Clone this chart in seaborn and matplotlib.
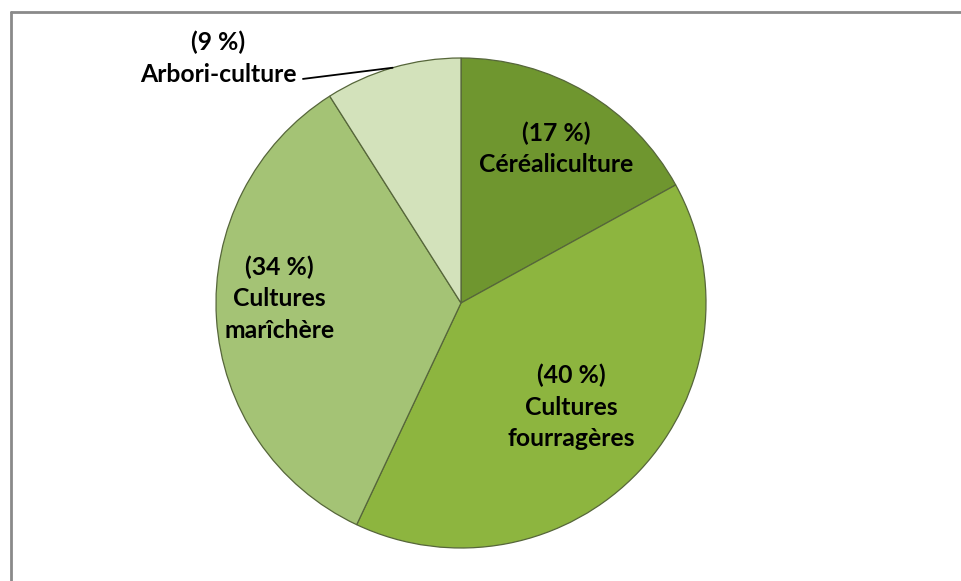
import numpy as np
import matplotlib
matplotlib.use("Agg")
import matplotlib.pyplot as plt
import seaborn as sns
from matplotlib.lines import Line2D

# Données (répartition des cultures)
categories = ["Céréaliculture", "Cultures\nfourragères", "Cultures\nmarîchère", "Arbori-culture"]
parts = [17, 40, 34, 9]
couleurs = ["#6f962f", "#8db53f", "#a4c375", "#d3e2bb"]
# placement des étiquettes internes : distance (fraction du rayon) et décalage angulaire (deg)
dist_labels = [0.74, 0.62, 0.74, None]
decal_angle = [-1, 0, -5, 0]

sns.set_theme(style="white")
plt.rcParams['font.family'] = ['Lato', 'DejaVu Sans']

W, H = 961, 581
fig = plt.figure(figsize=(W / 100, H / 100), dpi=100)
cx, cy, r = 461, 303, 245
ax = fig.add_axes([(cx - r) / W, (H - cy - r) / H, 2 * r / W, 2 * r / H])

wedges, _ = ax.pie(parts, colors=couleurs, startangle=90, counterclock=False,
                   wedgeprops=dict(edgecolor="#56663a", linewidth=0.9))
ax.set_xlim(-1, 1)
ax.set_ylim(-1, 1)
ax.set_aspect("equal")
ax.axis("off")

style_txt = dict(fontsize=17.8, fontweight="bold", color="black", linespacing=1.45)
for w, cat, p, d, da in zip(wedges, categories, parts, dist_labels, decal_angle):
    theta = np.deg2rad((w.theta1 + w.theta2) / 2 + da)
    txt = f"({p} %)\n{cat}"
    if d is not None:
        ax.text(d * np.cos(theta), d * np.sin(theta), txt, ha="center", va="center",
                **style_txt)
    else:
        x0, y0 = np.cos(theta), np.sin(theta)
        ax.annotate(txt, xy=(x0, y0), xytext=(-0.99, 1.0), ha="center", va="center",
                    annotation_clip=False, **style_txt,
                    arrowprops=dict(arrowstyle="-", color="black", lw=1.3,
                                    shrinkA=0, shrinkB=0,
                                    relpos=(1.04, 0.12)))

# cadre du graphique (bord haut et gauche visibles)
fig.add_artist(Line2D([11 / W, 1], [1 - 12 / H, 1 - 12 / H], color="#8a8a8a", lw=2))
fig.add_artist(Line2D([11 / W, 11 / W], [0, 1 - 12 / H], color="#8a8a8a", lw=2))

fig.savefig("out.png", dpi=100)
